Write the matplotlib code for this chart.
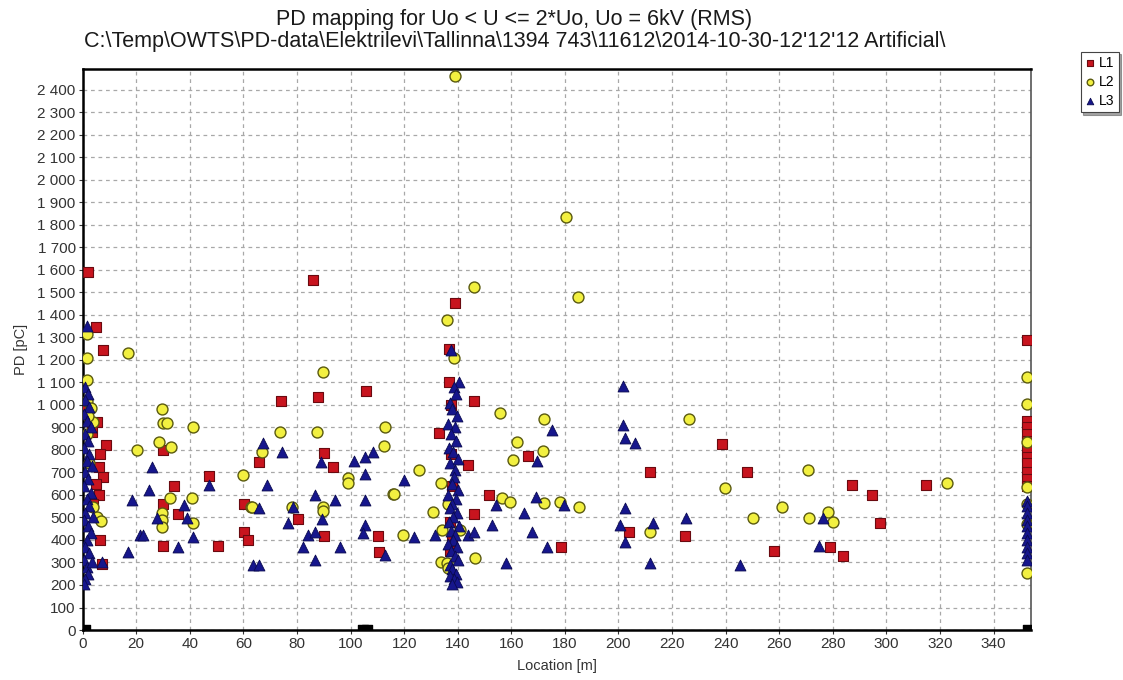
import numpy as np
import matplotlib
matplotlib.use("Agg")
import matplotlib.pyplot as plt
from matplotlib.ticker import MultipleLocator, FuncFormatter

plt.rcParams['font.family'] = ['Liberation Sans', 'DejaVu Sans']

# L1 discharges (location m, charge pC)
l1_x = [2.1, 5.0, 7.5, 1.0, 5.2, 3.5, 8.6, 6.5, 6.2, 7.5, 5.0, 6.2, 4.0, 6.5, 7.1,
        29.9, 34.1, 29.9, 35.7, 29.9, 50.7, 47.3, 60.4, 60.4, 61.9, 66.0,
        85.9, 74.1, 88.0, 105.8, 90.1, 93.4, 80.5, 90.1, 110.2, 110.7,
        139.1, 136.9, 136.9, 137.5, 146.2, 133.2, 137.5, 144.0, 138.0, 151.5, 137.0, 145.9, 138.0, 137.0, 166.1,
        178.7, 211.9, 204.0, 225.0, 238.7, 247.8, 258.2, 287.0, 294.5, 297.8, 278.9, 283.9, 314.7,
        352.5, 352.5, 352.5, 352.5, 352.5, 352.5, 352.5, 352.5, 352.5, 352.5, 352.5]
l1_y = [1591, 1346, 1244, 1000, 922, 880, 823, 783, 723, 679, 650, 598, 560, 399, 295,
        801, 641, 561, 517, 372, 372, 683, 558, 435, 399, 745,
        1553, 1016, 1033, 1060, 787, 726, 494, 416, 416, 347,
        1451, 1248, 1103, 1000, 1016, 874, 780, 731, 640, 598, 480, 517, 400, 350, 771,
        370, 701, 436, 417, 824, 703, 349, 644, 599, 476, 370, 329, 644,
        1289, 930, 900, 870, 840, 800, 770, 740, 700, 670, 640]

# L2 discharges
l2_x = [1.7, 1.5, 1.5, 1.5, 3.1, 3.7, 2.0, 1.5, 17.0, 29.5, 30.1, 31.6, 41.1, 28.6, 33.0, 20.4, 2.5,
        59.8, 32.6, 40.8, 3.7, 5.5, 6.7, 29.5, 29.5, 29.5, 41.1, 62.8,
        89.7, 73.7, 87.6, 112.7, 112.6, 66.9, 98.9, 99.2, 115.8, 63.1, 78.1, 89.7, 89.9,
        139.0, 145.9, 136.0, 138.7, 155.6, 162.3, 160.8, 125.4, 133.7, 116.3, 130.7, 134.1, 140.7,
        119.5, 133.7, 136.0, 136.5, 146.5, 156.5, 159.6, 136.5,
        180.5, 184.8, 172.1, 171.8, 172.1, 178.3, 185.4, 211.7, 226.2,
        239.7, 250.3, 261.1, 270.8, 271.1, 278.3, 280.0, 322.7,
        352.5, 352.5, 352.5, 352.5, 352.5, 352.5, 352.5]
l2_y = [1313, 1210, 1110, 1016, 987, 925, 950, 870, 1231, 982, 920, 920, 900, 833, 814, 799, 741,
        688, 585, 585, 547, 503, 485, 518, 490, 459, 474, 545,
        1147, 880, 880, 900, 817, 791, 673, 651, 604, 545, 547, 545, 530,
        2460, 1524, 1376, 1210, 965, 833, 754, 710, 651, 602, 525, 444, 444,
        422, 300, 296, 275, 318, 585, 567, 560,
        1835, 1480, 939, 796, 562, 569, 547, 436, 937,
        632, 498, 545, 710, 498, 525, 478, 651,
        1125, 1005, 833, 636, 560, 470, 252]

# L3 discharges: column at the near end, column at the joint near 139 m, scattered rest
l3_x = [1.5, 0.8, 2.0, 1.0, 2.5, 0.5, 1.5, 3.0, 1.0, 2.0, 0.5, 2.5, 1.5, 3.5, 1.0, 2.0, 0.5,
        3.0, 1.5, 2.5, 1.0, 4.0, 0.5, 2.0, 3.0, 1.5, 1.0, 2.5, 0.5, 1.5, 3.5, 2.0, 1.0, 0.5,
        137.5, 140.3, 138.5, 139.5, 137.0, 138.0, 139.8, 136.5, 138.8, 137.5, 139.5, 136.8,
        138.2, 140.0, 137.2, 139.0, 138.5, 137.8, 140.2, 136.5, 139.2, 138.0, 137.0, 139.8,
        138.4, 136.8, 140.5, 137.6, 139.0, 138.2, 136.5, 139.6, 137.4, 138.8, 140.2, 137.0,
        138.0, 139.4, 137.2, 138.6, 139.8, 137.8,
        25.8, 24.9, 18.3, 21.4, 22.5, 17.0, 27.6, 37.8, 38.8, 41.1, 35.7, 47.3, 7.1, 63.5, 66.0,
        67.2, 74.3, 68.7, 66.0, 86.8, 88.9, 94.2, 78.4, 76.8, 84.3, 82.4, 86.8, 86.8, 89.3,
        95.9, 101.1, 105.5, 108.3, 105.5, 105.5, 105.5, 104.6, 112.9,
        119.8, 123.5, 131.6, 144.0, 145.9, 152.8, 154.4, 158.1, 164.8, 167.7, 169.3, 169.6,
        175.2, 179.5, 173.3, 201.7, 201.7, 202.3, 206.3, 202.3, 200.5, 202.3, 212.9, 211.7,
        225.2, 245.3, 276.4, 274.8,
        352.5, 352.5, 352.5, 352.5, 352.5, 352.5, 352.5, 352.5, 352.5, 352.5]
l3_y = [1349, 1080, 1050, 1020, 990, 960, 930, 900, 870, 840, 810, 780, 750, 730, 700, 670, 640,
        610, 580, 550, 520, 500, 490, 460, 430, 400, 370, 340, 310, 280, 300, 250, 225, 205,
        1243, 1100, 1080, 1050, 1010, 980, 950, 917, 900, 870, 840, 810,
        790, 760, 740, 710, 680, 650, 620, 600, 580, 560, 540, 520,
        500, 480, 460, 440, 420, 400, 380, 370, 350, 330, 310, 290,
        270, 250, 240, 225, 215, 205,
        725, 624, 577, 422, 422, 348, 496, 555, 496, 414, 370, 644, 303, 289, 289,
        829, 792, 644, 540, 599, 748, 577, 547, 474, 422, 370, 436, 311, 491,
        370, 751, 769, 792, 695, 577, 466, 429, 333,
        666, 414, 422, 422, 436, 466, 555, 296, 518, 436, 592, 751,
        888, 555, 370, 1083, 910, 851, 829, 541, 466, 392, 476, 296,
        496, 289, 496, 373,
        575, 550, 520, 490, 460, 430, 400, 370, 340, 310]

# cable end / joint markers on the zero line
marks_x = [0.8, 104.6, 106.0, 352.8]
marks_y = [0, 0, 0, 0]

fig = plt.figure(figsize=(11.23, 6.8), dpi=100)
ax = fig.add_axes([0.0736, 0.0735, 0.8445, 0.8245])

ax.scatter(l1_x, l1_y, marker='s', s=52, c='#c8141e', edgecolors='#6a0a10', linewidths=0.8, label='L1', zorder=3)
ax.scatter(l2_x, l2_y, marker='o', s=62, c='#f2f040', edgecolors='#5a5a10', linewidths=1.0, label='L2', zorder=3)
ax.scatter(l3_x, l3_y, marker='^', s=62, c='#16168c', edgecolors='#0a0a50', linewidths=0.6, label='L3', zorder=4)
ax.scatter(marks_x, marks_y, marker='s', s=45, c='black', zorder=5)

ax.set_xlim(0, 354)
ax.set_ylim(0, 2490)
ax.xaxis.set_major_locator(MultipleLocator(20))
ax.yaxis.set_major_locator(MultipleLocator(100))
ax.yaxis.set_major_formatter(FuncFormatter(lambda v, p: f"{int(v):,}".replace(",", " ")))
ax.tick_params(labelsize=11, colors='#333333', length=3, pad=2)
ax.grid(True, color='#a8a8a8', linestyle=(0, (3, 3)), linewidth=0.9)
ax.set_axisbelow(True)
for side in ['left', 'bottom', 'top']:
    ax.spines[side].set_linewidth(1.8)
    ax.spines[side].set_color('black')
ax.spines['right'].set_linewidth(1.2)
ax.spines['right'].set_color('#555555')

ax.set_xlabel('Location [m]', fontsize=10.5, color='#333333', labelpad=6)
ax.set_ylabel('PD [pC]', fontsize=10.5, color='#333333', labelpad=7)

fig.text(0.458, 0.971, 'PD mapping for Uo < U <= 2*Uo, Uo = 6kV (RMS)', ha='center', va='center',
         fontsize=15.5, color='#1a1a1a')
fig.text(0.458, 0.939, "C:\\Temp\\OWTS\\PD-data\\Elektrilevi\\Tallinna\\1394 743\\11612\\2014-10-30-12'12'12 Artificial\\",
         ha='center', va='center', fontsize=15.5, color='#1a1a1a')

leg = fig.legend(loc='upper right', bbox_to_anchor=(0.996, 0.924), borderaxespad=0, fontsize=10, frameon=True,
                 handletextpad=0.2, borderpad=0.3, labelspacing=0.35, handlelength=0.8,
                 markerscale=0.6, fancybox=False, shadow=True, edgecolor='#444444')
leg.get_frame().set_linewidth(0.8)

fig.savefig('out.png', dpi=100)
